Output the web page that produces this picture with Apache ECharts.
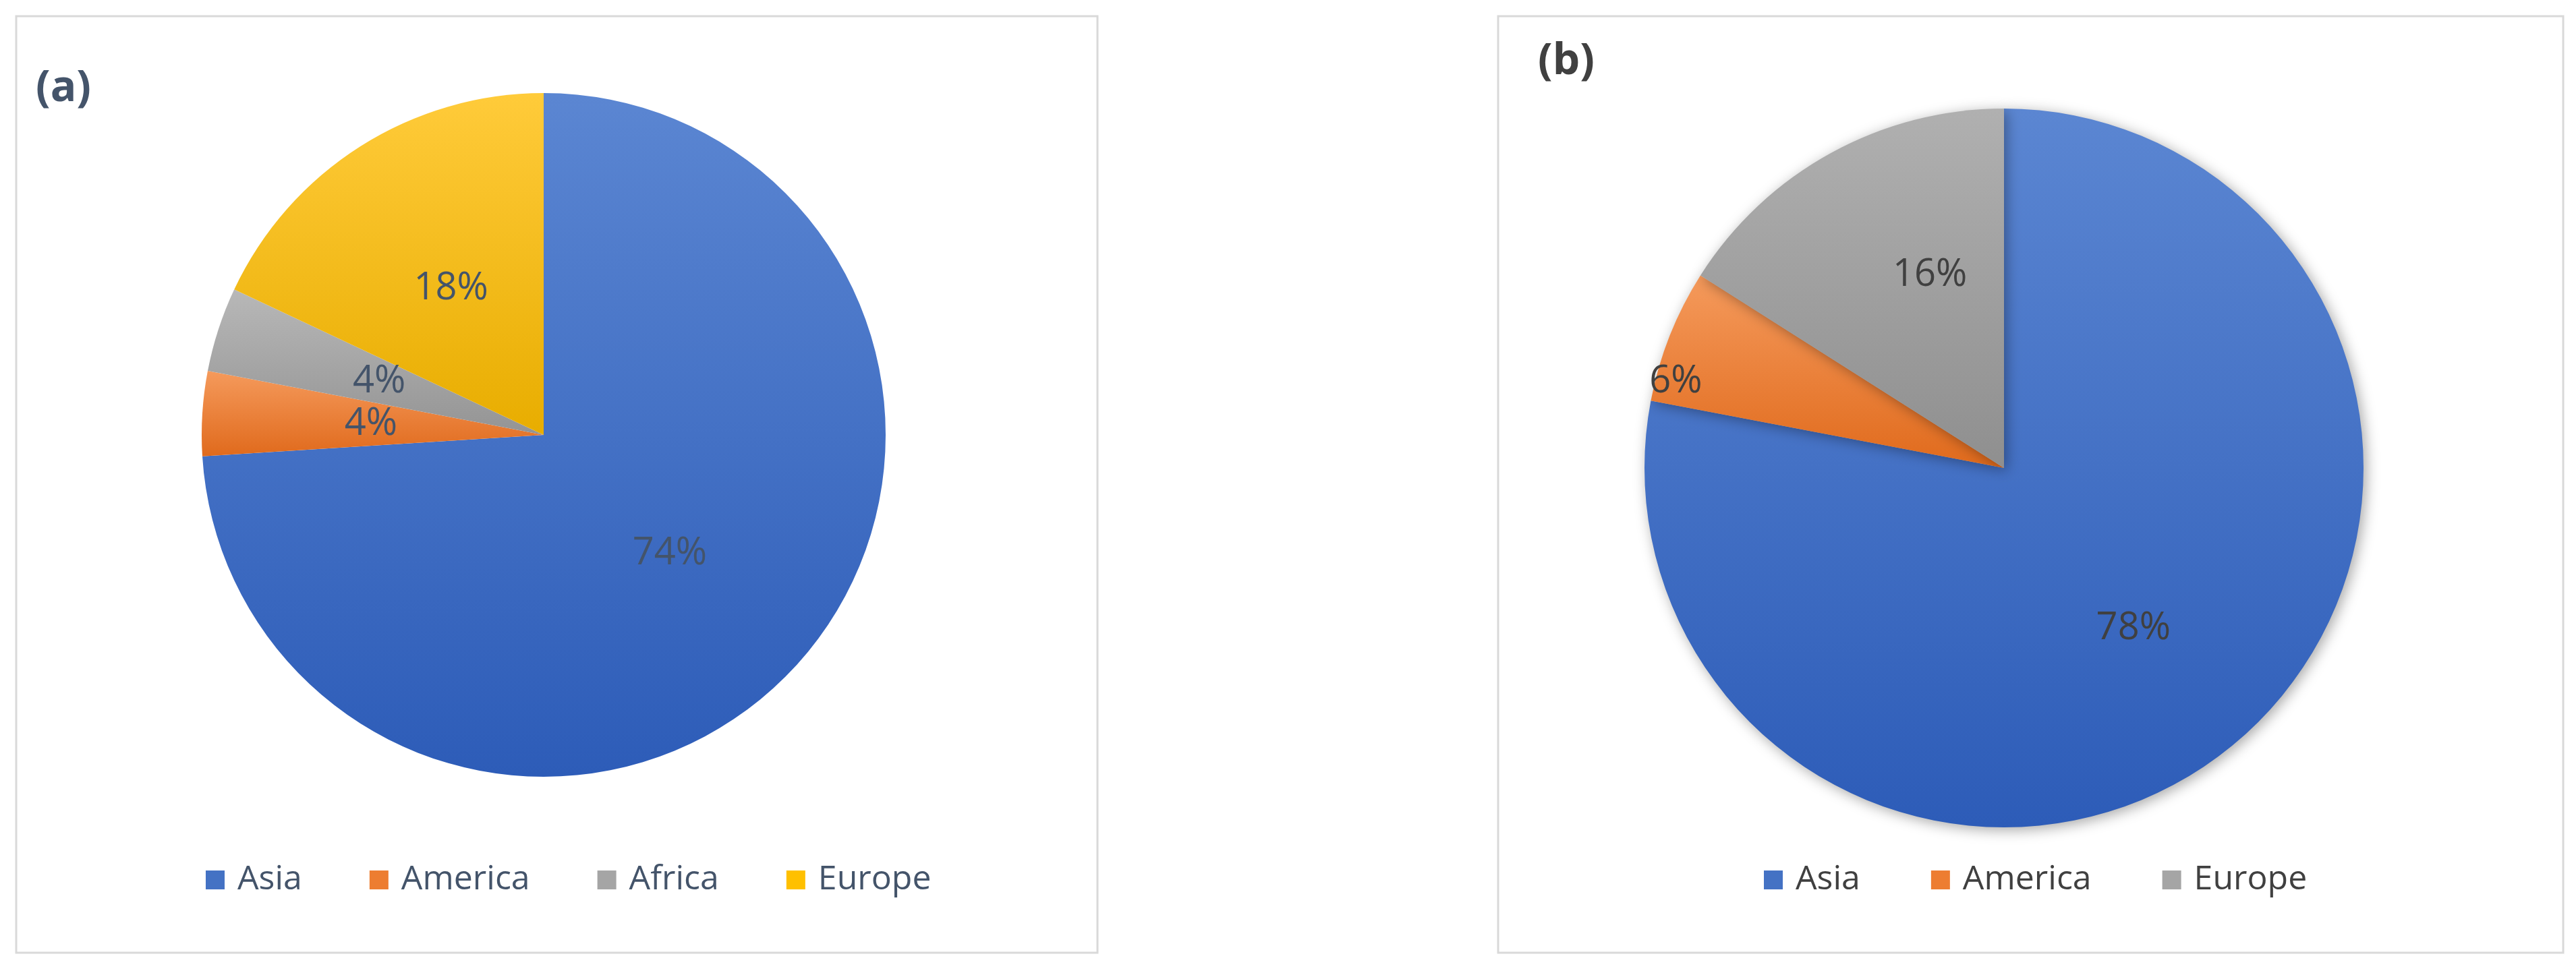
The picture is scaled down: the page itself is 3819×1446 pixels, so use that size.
<!DOCTYPE html>
<html>
<head>
<meta charset="utf-8">
<script src="https://cdn.jsdelivr.net/npm/echarts@6/dist/echarts.min.js"></script>
<style>
html,body{margin:0;padding:0;background:#fff;}
#chart{width:3819px;height:1446px;}
</style>
</head>
<body>
<div id="chart"></div>
<script>
var namesA = ['Asia', 'America', 'Africa', 'Europe'];
var valuesA = [74, 4, 4, 18];
var namesB = ['Asia', 'America', 'Europe'];
var valuesB = [78, 6, 16];

var colorsA = {
    Asia: ['#5b86d2', '#2d5cb8'],
    America: ['#f59a5c', '#e06a1c'],
    Africa: ['#b8b8b8', '#949494'],
    Europe: ['#ffcb3a', '#e8ad00']
};
var colorsB = { Asia: ['#5b86d2', '#2d5cb8'], America: ['#f59a5c', '#e06a1c'], Europe: ['#b0b0b0', '#8f8f8f'] };
var legendColor = { Asia: '#4472C4', America: '#ED7D31', Africa: '#A5A5A5', Europe: '#FFC000' };
var legendColorB = { Asia: '#4472C4', America: '#ED7D31', Europe: '#A5A5A5' };
// label nudges for panel (b), which Excel places with "best fit"
var labelOffsetB = { America: [-236, -29], Europe: [20, -50], Asia: [20, 30] };

function grad(c) {
    return new echarts.graphic.LinearGradient(0, 0, 0, 1, [
        {offset: 0, color: c[0]}, {offset: 1, color: c[1]}
    ]);
}
function build(names, values, map, offs) {
    var out = [];
    for (var i = 0; i < names.length; i++) {
        var d = {name: names[i], value: values[i], itemStyle: {color: grad(map[names[i]])}};
        if (offs && offs[names[i]]) d.label = {offset: offs[names[i]]};
        out.push(d);
    }
    return out;
}
function legendData(names, cmap) {
    return names.map(function (n) { return {name: n, itemStyle: {color: cmap[n]}}; });
}

var chart = echarts.init(document.getElementById('chart'));
var labelStyle = {show: true, position: 'inner', formatter: '{c}%', fontSize: 56, fontFamily: 'Open Sans', color: '#44546A'};
var legendText = {fontSize: 50, fontFamily: 'Open Sans', padding: [0, 0, 0, 14]};
chart.setOption({
    animation: false,
    title: [
        {text: '(a)', left: 48, top: 95, textStyle: {fontSize: 64, fontWeight: 'bold', color: '#44546A', fontFamily: 'Open Sans'}},
        {text: '(b)', left: 2275, top: 55, textStyle: {fontSize: 64, fontWeight: 'bold', color: '#404040', fontFamily: 'Open Sans'}}
    ],
    legend: [
        {data: legendData(namesA, legendColor), left: 300, top: 1275, itemWidth: 28, itemHeight: 28, itemGap: 100, icon: 'rect',
         textStyle: Object.assign({color: '#44546A'}, legendText), selectedMode: false},
        {data: legendData(namesB, legendColorB), left: 2610, top: 1275, itemWidth: 28, itemHeight: 28, itemGap: 105, icon: 'rect',
         textStyle: Object.assign({color: '#404040'}, legendText), selectedMode: false}
    ],
    graphic: [
        {type: 'rect', shape: {x: 24, y: 24, width: 1603, height: 1389}, style: {fill: 'none', stroke: '#d9d9d9', lineWidth: 3}},
        {type: 'rect', shape: {x: 2221, y: 24, width: 1579, height: 1389}, style: {fill: 'none', stroke: '#d9d9d9', lineWidth: 3}}
    ],
    series: [
        {type: 'pie', legendIndex: 0, center: [806, 645], radius: 507, startAngle: 90, clockwise: true,
         label: labelStyle, labelLine: {show: false}, data: build(namesA, valuesA, colorsA)},
        {type: 'pie', center: [2971, 694], radius: 533, startAngle: 90, clockwise: true,
         itemStyle: {shadowBlur: 20, shadowColor: 'rgba(0,0,0,0.35)', shadowOffsetX: 4, shadowOffsetY: 4},
         label: Object.assign({}, labelStyle, {color: '#404040'}), labelLine: {show: false},
         data: build(namesB, valuesB, colorsB, labelOffsetB)}
    ]
});
</script>
</body>
</html>
